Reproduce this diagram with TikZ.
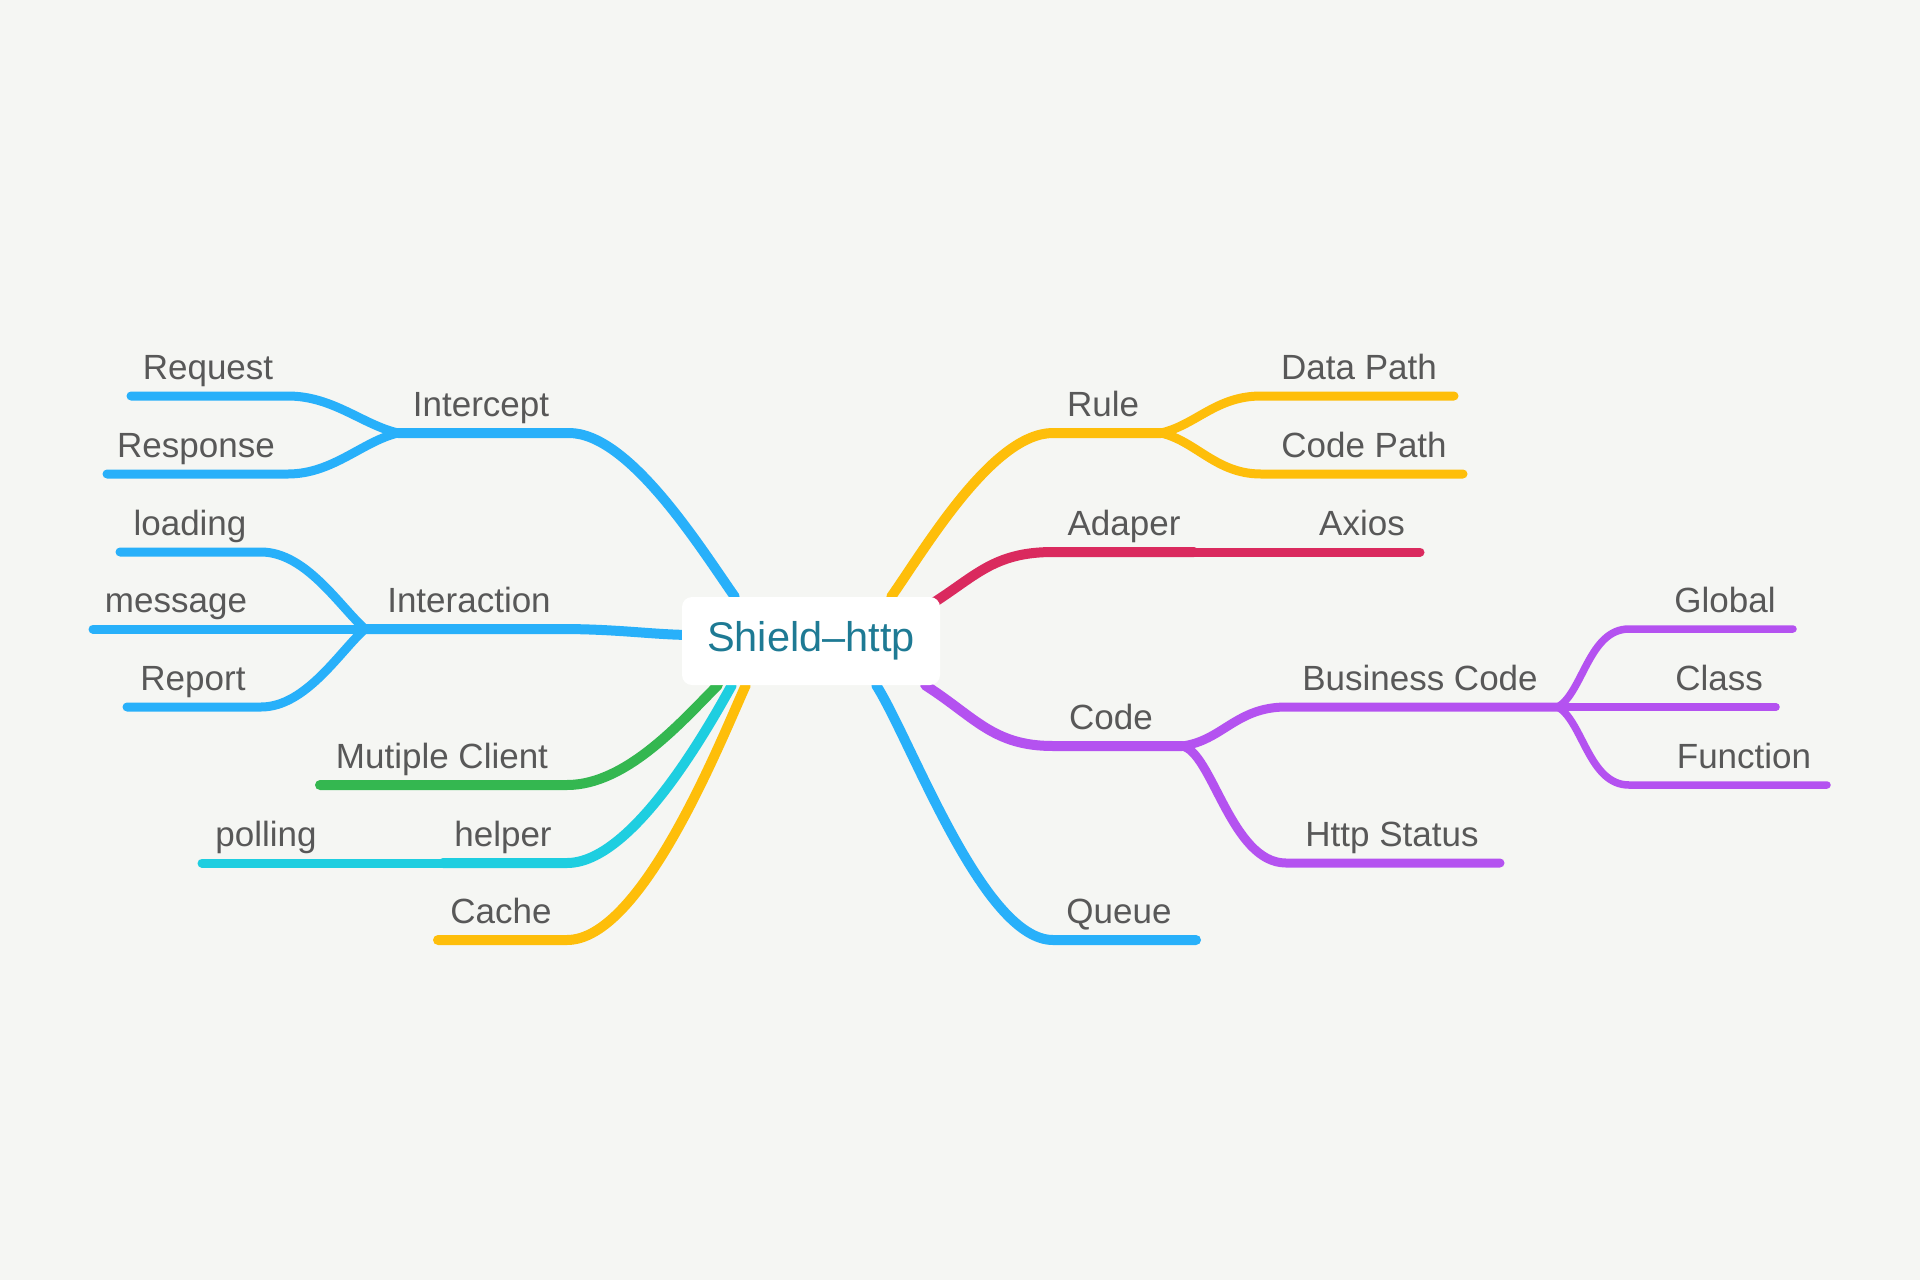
\documentclass[tikz,border=0pt]{standalone}
\usepackage{fontspec}
\setmainfont{Liberation Sans}
\usetikzlibrary{calc}
\definecolor{bg}{RGB}{245,246,243}
\definecolor{cblue}{RGB}{40,176,250}
\definecolor{cyellow}{RGB}{254,190,10}
\definecolor{cred}{RGB}{218,42,94}
\definecolor{cpurple}{RGB}{180,82,240}
\definecolor{cgreen}{RGB}{52,183,80}
\definecolor{ccyan}{RGB}{30,206,224}
\definecolor{ctext}{RGB}{88,88,88}
\definecolor{ctitle}{RGB}{30,122,148}
\pgfdeclarelayer{back}
\pgfsetlayers{back,main}
\begin{document}
\begin{tikzpicture}[x=1pt,y=-1pt,
  brA/.style={line width=10pt, line cap=round},
  brB/.style={line width=9pt, line cap=round},
  brC/.style={line width=7.5pt, line cap=round},
  lbl/.style={font=\fontsize{35}{38}\selectfont, text=ctext, anchor=base, inner sep=0pt},
  rootbox/.style={fill=white, rounded corners=10pt, minimum width=258pt, minimum height=88pt, inner sep=0pt,
    font=\fontsize{41.5}{46}\selectfont, text=ctitle}
]
\useasboundingbox (0,0) rectangle (1920,1280);
\node[rootbox] (root) at (811,641) {Shield–http};

% ---------- coordinates ----------
% left
\coordinate (ic-s) at (569,433); \coordinate (ic-j) at (398,433);
\coordinate (req-s) at (288,396); \coordinate (req-e) at (131,396);
\coordinate (res-s) at (288,474); \coordinate (res-e) at (107,474);
\coordinate (ia-j) at (365,629); \coordinate (ia-s) at (560,629);
\coordinate (lo-s) at (261,552); \coordinate (lo-e) at (120,552);
\coordinate (me-e) at (93,629);
\coordinate (rp-s) at (261,707); \coordinate (rp-e) at (127,707);
\coordinate (mc-s) at (567,785); \coordinate (mc-e) at (320,785);
\coordinate (he-s) at (567,863); \coordinate (he-e) at (443,863);
\coordinate (po-e) at (202,863);
\coordinate (ca-s) at (567,940); \coordinate (ca-e) at (438,940);
% right
\coordinate (ru-s) at (1053,433); \coordinate (ru-j) at (1161,433);
\coordinate (dp-s) at (1261,396); \coordinate (dp-e) at (1454,396);
\coordinate (cp-s) at (1261,474); \coordinate (cp-e) at (1463,474);
\coordinate (ad-s) at (1053,552); \coordinate (ad-j) at (1194,552);
\coordinate (ax-e) at (1420,552);
\coordinate (co-s) at (1053,746); \coordinate (co-j) at (1182,746);
\coordinate (bc-s) at (1286,707); \coordinate (bc-j) at (1558,707);
\coordinate (hs-s) at (1286,863); \coordinate (hs-e) at (1500,863);
\coordinate (gl-s) at (1629,629); \coordinate (gl-e) at (1793,629);
\coordinate (cl-e) at (1776,707);
\coordinate (fn-s) at (1629,785); \coordinate (fn-e) at (1827,785);
\coordinate (qu-s) at (1053,940); \coordinate (qu-e) at (1196,940);
% root exits
\coordinate (x-ic) at ($(root.north west)+(53,0)$);
\coordinate (x-ia) at ($(root.west)+(12,-6)$);
\coordinate (x-mc) at ($(root.south west)+(36,0)$);
\coordinate (x-he) at ($(root.south west)+(50,0)$);
\coordinate (x-ca) at ($(root.south west)+(64,0)$);
\coordinate (x-ru) at ($(root.north east)+(-49,0)$);
\coordinate (x-ad) at ($(root.north east)+(-10,8)$);
\coordinate (x-co) at ($(root.south east)+(-15,0)$);
\coordinate (x-qu) at ($(root.south east)+(-64,0)$);

\begin{pgfonlayer}{back}
\fill[bg] (0,0) rectangle (1920,1280);
% ---- left, blue ----
\draw[brA, cblue] (x-ic) .. controls +(-35,-50) and +(60,0) .. (ic-s) -- (ic-j);
\draw[brB, cblue] (ic-j) .. controls +(-35,-8) and +(45,0) .. (req-s) -- (req-e);
\draw[brB, cblue] (ic-j) .. controls +(-35,8) and +(45,0) .. (res-s) -- (res-e);
\draw[brA, cblue] (x-ia) .. controls +(-40,0) and +(60,0) .. (ia-s) -- (ia-j);
\draw[brB, cblue] (ia-j) .. controls +(-25,-22) and +(45,0) .. (lo-s) -- (lo-e);
\draw[brB, cblue] (ia-j) -- (me-e);
\draw[brB, cblue] (ia-j) .. controls +(-25,22) and +(45,0) .. (rp-s) -- (rp-e);
% ---- left others ----
\draw[brA, cgreen] (x-mc) .. controls +(-35,35) and +(60,0) .. (mc-s) -- (mc-e);
\draw[brA, ccyan] (x-he) .. controls +(-25,45) and +(65,0) .. (he-s) -- (he-e);
\draw[brB, ccyan] (he-e) -- (po-e);
\draw[brA, cyellow] (x-ca) .. controls +(-25,55) and +(75,0) .. (ca-s) -- (ca-e);
% ---- right ----
\draw[brA, cyellow] (x-ru) .. controls +(35,-50) and +(-60,0) .. (ru-s) -- (ru-j);
\draw[brB, cyellow] (ru-j) .. controls +(35,-8) and +(-45,0) .. (dp-s) -- (dp-e);
\draw[brB, cyellow] (ru-j) .. controls +(35,8) and +(-45,0) .. (cp-s) -- (cp-e);
\draw[brA, cred] (x-ad) .. controls +(45,-28) and +(-60,0) .. (ad-s) -- (ad-j);
\draw[brB, cred] (ad-j) -- (ax-e);
\draw[brA, cpurple] (x-co) .. controls +(50,32) and +(-60,0) .. (co-s) -- (co-j);
\draw[brB, cpurple] (co-j) .. controls +(40,-5) and +(-50,0) .. (bc-s) -- (bc-j);
\draw[brB, cpurple] (co-j) .. controls +(30,5) and +(-55,0) .. (hs-s) -- (hs-e);
\draw[brC, cpurple] (bc-j) .. controls +(25,-15) and +(-40,0) .. (gl-s) -- (gl-e);
\draw[brC, cpurple] (bc-j) -- (cl-e);
\draw[brC, cpurple] (bc-j) .. controls +(25,15) and +(-40,0) .. (fn-s) -- (fn-e);
\draw[brA, cblue] (x-qu) .. controls +(35,55) and +(-70,0) .. (qu-s) -- (qu-e);
\end{pgfonlayer}

% ---------- labels ----------
\node[lbl] (t-req) at (208,379) {Request};
\node[lbl] (t-res) at (196,457) {Response};
\node[lbl] (t-ic) at (481,416) {Intercept};
\node[lbl] (t-lo) at (190,535) {loading};
\node[lbl] (t-me) at (176,612) {message};
\node[lbl] (t-ia) at (469,612) {Interaction};
\node[lbl] (t-rp) at (193,690) {Report};
\node[lbl] (t-mc) at (442,768) {Mutiple Client};
\node[lbl] (t-he) at (503,846) {helper};
\node[lbl] (t-po) at (266,846) {polling};
\node[lbl] (t-ca) at (501,923) {Cache};
\node[lbl] (t-ru) at (1103,416) {Rule};
\node[lbl] (t-dp) at (1359,379) {Data Path};
\node[lbl] (t-cp) at (1364,457) {Code Path};
\node[lbl] (t-ad) at (1124,535) {Adaper};
\node[lbl] (t-ax) at (1362,535) {Axios};
\node[lbl] (t-co) at (1111,729) {Code};
\node[lbl] (t-bc) at (1420,690) {Business Code};
\node[lbl] (t-hs) at (1392,846) {Http Status};
\node[lbl] (t-gl) at (1725,612) {Global};
\node[lbl] (t-cl) at (1719,690) {Class};
\node[lbl] (t-fn) at (1744,768) {Function};
\node[lbl] (t-qu) at (1119,923) {Queue};
\end{tikzpicture}
\end{document}
